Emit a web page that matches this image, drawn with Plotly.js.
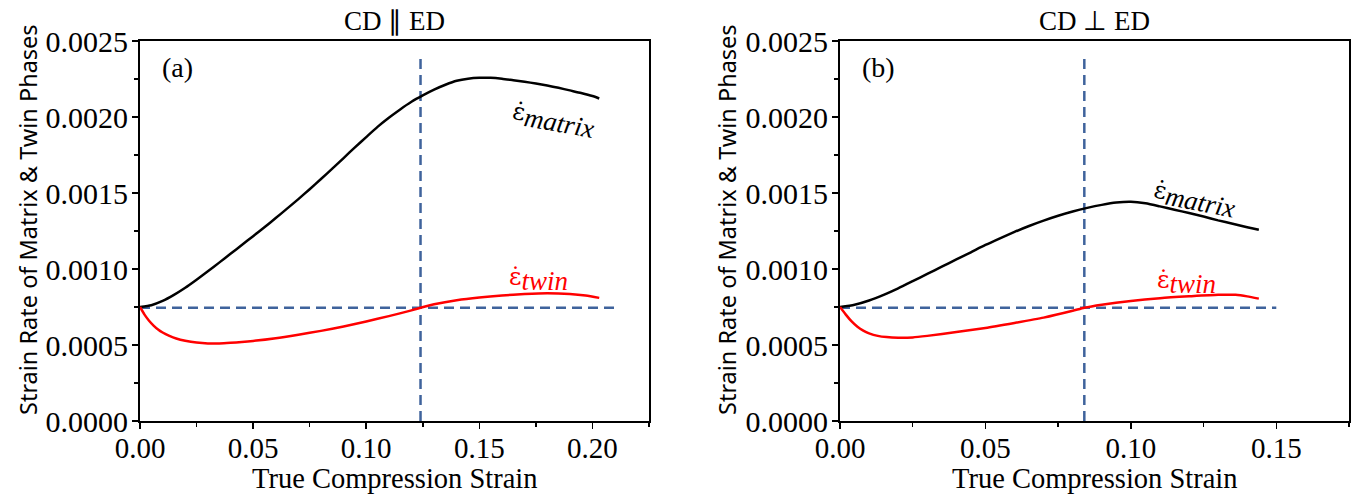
<!DOCTYPE html>
<html>
<head>
<meta charset="utf-8">
<script src="https://cdn.plot.ly/plotly-3.0.1.min.js"></script>
<style>html,body{margin:0;padding:0;background:#fff}#chart{width:1356px;height:495px}</style>
</head>
<body>
<div id="chart"></div>
<script>
// Panel (a): CD || ED
const strainA_matrix = [0.000,0.005,0.010,0.015,0.020,0.025,0.030,0.035,0.040,0.045,0.050,0.055,0.060,0.065,0.070,0.075,0.080,0.085,0.090,0.095,0.100,0.105,0.110,0.115,0.120,0.125,0.130,0.135,0.140,0.145,0.150,0.155,0.160,0.165,0.170,0.175,0.180,0.185,0.190,0.195,0.200,0.203];
const rateA_matrix = [0.000750,0.000762,0.000790,0.000830,0.000877,0.000930,0.000985,0.001042,0.001100,0.001158,0.001216,0.001275,0.001335,0.001397,0.001460,0.001525,0.001592,0.001660,0.001730,0.001800,0.001868,0.001935,0.001995,0.002050,0.002100,0.002142,0.002180,0.002212,0.002238,0.002252,0.002258,0.002258,0.002252,0.002242,0.002232,0.002220,0.002207,0.002192,0.002175,0.002158,0.002138,0.002122];
const strainA_twin = [0.000,0.002,0.004,0.006,0.008,0.010,0.013,0.016,0.020,0.025,0.030,0.035,0.040,0.045,0.050,0.060,0.070,0.080,0.090,0.100,0.110,0.120,0.124,0.130,0.140,0.150,0.160,0.170,0.180,0.190,0.197,0.203];
const rateA_twin = [0.000750,0.000700,0.000660,0.000628,0.000602,0.000582,0.000560,0.000543,0.000528,0.000516,0.000510,0.000510,0.000514,0.000520,0.000527,0.000545,0.000568,0.000593,0.000622,0.000655,0.000690,0.000728,0.000745,0.000768,0.000795,0.000813,0.000826,0.000835,0.000840,0.000835,0.000825,0.000810];
const refLineA_x = 0.124;
const refRate = 0.000745;

// Panel (b): CD ⊥ ED
const strainB_matrix = [0.000,0.005,0.010,0.015,0.020,0.025,0.030,0.035,0.040,0.045,0.050,0.055,0.060,0.065,0.070,0.075,0.080,0.085,0.090,0.095,0.100,0.105,0.110,0.115,0.120,0.125,0.130,0.135,0.140,0.144];
const rateB_matrix = [0.000750,0.000765,0.000793,0.000830,0.000873,0.000920,0.000968,0.001015,0.001063,0.001110,0.001158,0.001202,0.001244,0.001283,0.001318,0.001350,0.001378,0.001402,0.001422,0.001437,0.001442,0.001432,0.001412,0.001390,0.001368,0.001345,0.001320,0.001298,0.001275,0.001258];
const strainB_twin = [0.000,0.002,0.004,0.006,0.008,0.010,0.013,0.016,0.020,0.025,0.030,0.040,0.050,0.060,0.070,0.080,0.084,0.090,0.100,0.110,0.120,0.130,0.136,0.140,0.144];
const rateB_twin = [0.000750,0.000700,0.000655,0.000620,0.000595,0.000577,0.000560,0.000552,0.000548,0.000550,0.000560,0.000585,0.000612,0.000645,0.000680,0.000725,0.000745,0.000765,0.000790,0.000808,0.000820,0.000830,0.000830,0.000820,0.000805];
const refLineB_x = 0.084;

const panelTitles = ["CD \u2225 ED", "CD \u22A5 ED"];
const panelLabels = ["(a)", "(b)"];
const xTitle = "True Compression Strain";
const yTitle = "Strain Rate of Matrix & Twin Phases";
const subStyle = "font-family:'Liberation Serif';font-size:27px;font-style:italic";
const matrixLabel = "\u03B5\u0307<sub><span style=\"" + subStyle + "\">matrix</span></sub>";
const twinLabel = "\u03B5\u0307<sub><span style=\"" + subStyle + "\">twin</span></sub>";

const dashColor = "#3f639c";
const serif = "Liberation Serif";

function line(x, y, color, xa, ya) {
  return {x: x, y: y, type: "scatter", mode: "lines", line: {color: color, width: 2.5, shape: "spline", smoothing: 0.6}, xaxis: xa, yaxis: ya, hoverinfo: "skip", showlegend: false};
}
function dashed(x, y, xa, ya) {
  return {x: x, y: y, type: "scatter", mode: "lines", line: {color: dashColor, width: 2.5, dash: "10px,6px"}, xaxis: xa, yaxis: ya, hoverinfo: "skip", showlegend: false};
}

const traces = [
  dashed([0, 0.21], [refRate, refRate], "x", "y"),
  dashed([refLineA_x, refLineA_x], [0, 0.00241], "x", "y"),
  line(strainA_matrix, rateA_matrix, "#000000", "x", "y"),
  line(strainA_twin, rateA_twin, "#ff0000", "x", "y"),
  dashed([0, 0.15], [refRate, refRate], "x2", "y2"),
  dashed([refLineB_x, refLineB_x], [0, 0.00241], "x2", "y2"),
  line(strainB_matrix, rateB_matrix, "#000000", "x2", "y2"),
  line(strainB_twin, rateB_twin, "#ff0000", "x2", "y2")
];

function xaxis(domain, range, anchor) {
  return {
    domain: domain, range: range, anchor: anchor,
    dtick: 0.05, tickformat: ".2f",
    ticks: "outside", ticklen: 6, tickwidth: 1.5, tickcolor: "#000",
    minor: {dtick: 0.025, ticks: "outside", ticklen: 4, tickwidth: 1.5, tickcolor: "#000"},
    showline: true, linecolor: "#000", linewidth: 2, mirror: true,
    showgrid: false, zeroline: false,
    ticklabelstandoff: -6,
    tickfont: {family: serif, size: 29, color: "#000"}
  };
}
function yaxis(domain, anchor) {
  return {
    domain: domain, range: [0, 0.0025], anchor: anchor,
    dtick: 0.0005, tickformat: ".4f",
    ticks: "outside", ticklen: 6, tickwidth: 1.5, tickcolor: "#000",
    minor: {dtick: 0.00025, ticks: "outside", ticklen: 4, tickwidth: 1.5, tickcolor: "#000"},
    showline: true, linecolor: "#000", linewidth: 2, mirror: true,
    showgrid: false, zeroline: false,
    ticklabelstandoff: -2,
    tickfont: {family: serif, size: 30, color: "#000"}
  };
}

const yDom = [74/495, 454/495];
const xDomA = [140/1356, 649/1356];
const xDomB = [840/1356, 1349/1356];

function textAnn(text, xref, x, y, font, extra) {
  return Object.assign({text: text, xref: xref, yref: "paper", x: x, y: y, xanchor: "center", yanchor: "middle", showarrow: false, font: font}, extra || {});
}
const titleFont = {family: serif, size: 27, color: "#000"};
const xTitleFont = {family: serif, size: 28.5, color: "#000"};
const yTitleFont = {family: "Noto Sans", size: 23.5, color: "#000"};

const layout = {
  width: 1356, height: 495,
  margin: {l: 0, r: 0, t: 0, b: 0},
  paper_bgcolor: "#fff", plot_bgcolor: "#fff",
  showlegend: false,
  xaxis: xaxis(xDomA, [0, 0.225], "y"),
  yaxis: yaxis(yDom, "x"),
  xaxis2: xaxis(xDomB, [0, 0.175], "y2"),
  yaxis2: yaxis(yDom, "x2"),
  annotations: [
    textAnn(panelTitles[0], "x domain", 0.5, 1 - 21/495, titleFont),
    textAnn(panelTitles[1], "x2 domain", 0.5, 1 - 21/495, titleFont),
    textAnn(xTitle, "x domain", 0.5, 1 - 478/495, xTitleFont),
    textAnn(xTitle, "x2 domain", 0.5, 1 - 478/495, xTitleFont),
    textAnn(yTitle, "paper", 28/1356, 1 - 220/495, yTitleFont, {textangle: -90}),
    textAnn(yTitle, "paper", 727/1356, 1 - 220/495, yTitleFont, {textangle: -90}),
    {text: panelLabels[0], xref: "x domain", yref: "y domain", x: 0.04, y: 0.93, xanchor: "left", yanchor: "middle", showarrow: false, font: {family: serif, size: 28, color: "#000"}},
    {text: panelLabels[1], xref: "x2 domain", yref: "y2 domain", x: 0.04, y: 0.93, xanchor: "left", yanchor: "middle", showarrow: false, font: {family: serif, size: 28, color: "#000"}},
    {text: matrixLabel, xref: "x", yref: "y", x: 0.183, y: 0.00198, showarrow: false, textangle: 10, font: {family: "DejaVu Serif", size: 24, color: "#000"}},
    {text: twinLabel, xref: "x", yref: "y", x: 0.176, y: 0.00093, showarrow: false, font: {family: "DejaVu Serif", size: 24, color: "#ff0000"}},
    {text: matrixLabel, xref: "x2", yref: "y2", x: 0.122, y: 0.00146, showarrow: false, textangle: 11, font: {family: "DejaVu Serif", size: 24, color: "#000"}},
    {text: twinLabel, xref: "x2", yref: "y2", x: 0.119, y: 0.00091, showarrow: false, font: {family: "DejaVu Serif", size: 24, color: "#ff0000"}}
  ]
};

Plotly.newPlot("chart", traces, layout, {displayModeBar: false, staticPlot: true});
</script>
</body>
</html>
